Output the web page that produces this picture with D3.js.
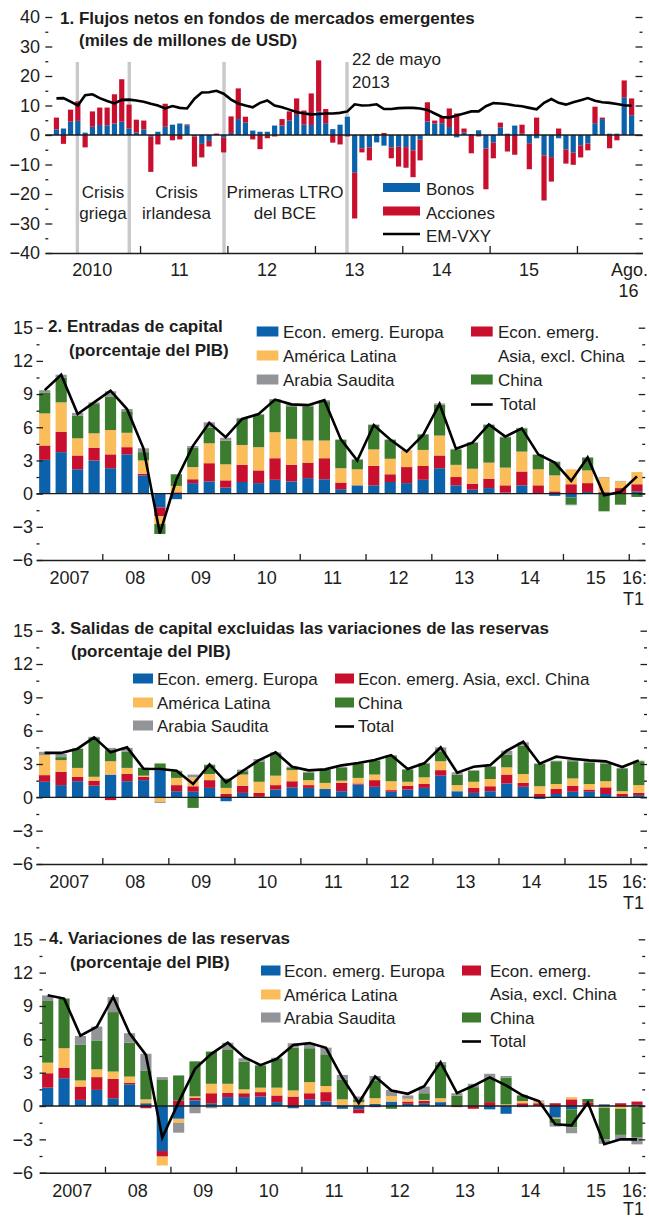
<!DOCTYPE html>
<html>
<head>
<meta charset="utf-8">
<script src="https://cdn.jsdelivr.net/npm/d3@7"></script>
<style>
  body { margin: 0; background: #fff; }
  svg text { font-family: "Liberation Sans", Arial, sans-serif; fill: #1d1d1b; }
</style>
</head>
<body>
<svg id="chart" width="649" height="1220"></svg>
<script>
// ---------- panel 1: monthly fund flows (Jan 2010 - Aug 2016) ----------
const fundMonths = d3.timeMonth.range(new Date(2010, 0, 1), new Date(2016, 8, 1));
const bonds = [
  1.9, 2.2, 4.5, 4.8, 0.8, 2.8, 3.4, 3.3, 3.9, 4.5, 2.2, 0.8,
  1.9, -0.5, 1.1, 2.8, 3.5, 3.9, 3.3, -0.5, -3.0, -2.0, 0, -0.9,
  0.7, 5.4, 4.2, 1.5, 1.1, 1.1, 3.2, 3.2, 4.9, 6.8, 3.5, 3.4,
  7.9, 4.0, 2.0, 3.5, 6.2, -12.8, -4.5, -4.2, -2.5, -3.6, -4.2, -4.0,
  -4.1, -5.2, -1.6, 4.6, 3.9, 4.0, 2.7, -0.8, 0.8, 0.3, 1.6, -4.6,
  -2.6, 2.6, 0.45, 3.2, 0.45, -2.8, -1.1, -6.9, -7.5, -1.1, -4.9, -6.0,
  -3.5, -2.9, 4.0, 5.4, 0.45, 0.45, 12.8, 6.7
];
const equities = [
  4.0, -3.0, 4.1, 6.6, -4.2, 5.2, 5.9, 6.0, 9.9, 14.4, 8.1, 4.4,
  3.0, -12.0, -3.2, 7.8, -1.8, -1.5, 0.3, -10.2, -4.6, -1.9, 0.5, -5.0,
  5.6, 10.4, 2.0, -1.5, -4.8, -1.1, -0.5, 2.2, 3.1, 5.6, 4.8, 10.7,
  17.4, 4.8, -2.6, -3.2, -0.5, -15.5, -1.4, -4.4, 0.35, 0.7, -3.7, -6.7,
  -7.0, -9.1, -7.0, 6.5, 1.0, 2.2, 6.3, 7.3, 1.4, -6.2, -0.5, -13.8,
  -5.3, 1.6, -5.6, -6.7, 3.05, -8.8, 5.9, -15.3, -8.3, 2.2, -4.8, -4.1,
  -4.1, -2.3, 5.6, 0.5, -4.5, -1.8, 5.7, 5.7
];
const emvxy = [
  12.4, 12.5, 11.3, 10.0, 13.5, 13.8, 12.5, 11.5, 10.7, 11.9, 12.0, 11.7,
  11.3, 10.6, 10.0, 9.0, 9.8, 9.2, 9.0, 12.3, 14.4, 14.5, 15.0, 14.0,
  12.0, 10.7, 10.0, 9.4, 10.9, 11.7, 10.0, 9.4, 8.6, 7.8, 7.3, 7.0,
  7.1, 7.3, 7.3, 7.5, 8.0, 10.4, 10.0, 10.1, 10.4, 8.8, 8.8, 9.1,
  9.2, 9.2, 9.0, 8.5, 7.3, 6.1, 5.9, 6.6, 7.3, 8.0, 8.0, 9.75,
  10.8, 10.7, 10.4, 10.0, 9.75, 9.2, 8.7, 10.9, 12.2, 10.9, 10.3, 11.1,
  11.8, 12.5, 11.6, 11.1, 10.9, 10.5, 10.1, 9.9
];
const eventDates = [new Date(2010, 3, 14), new Date(2010, 10, 17), new Date(2011, 11, 18), new Date(2013, 4, 15)];
const eventLabels = [["Crisis", "griega"], ["Crisis", "irlandesa"], ["Primeras LTRO", "del BCE"]];
const flowYearLabels = ["2010", "11", "12", "13", "14", "15"];

// ---------- panels 2-4: quarterly, 2007:T1 - 2016:T1 ----------
const quarters = d3.range(2007, 2017).flatMap(y => [1, 2, 3, 4].map(q => `${y}T${q}`)).slice(0, 37);
const yearLabels = ["2007", "08", "09", "10", "11", "12", "13", "14", "15"];
const seriesKeys = ["europa", "asia", "latam", "china", "arabia"];

// 2. Entradas de capital
const inEuropa = [3.05, 3.75, 2.2, 3.0, 2.3, 3.55, 1.65, -1.25, -0.5, 0.95, 1.1, 0.55, 1.05, 0.95, 1.25, 1.1, 1.4, 1.3, 0.4, 0.75, 0.75, 1.05, 0.95, 1.25, 2.3, 0.75, 0.35, 0.5, 0.1, 0.75, 0, -0.2, -0.35, 0.15, 0.1, 0.05, 0.2];
const inAsia   = [1.3, 1.85, 1.25, 1.15, 1.25, 0.65, 0.15, -0.8, 0.12, 0.35, 1.65, 0.65, 1.55, 1.15, 1.95, 1.5, 1.4, 1.9, 0.6, 0, 1.75, 0.7, 1.45, 1.25, 1.15, 0.75, 0.55, 0.85, 0.65, 1.25, 0.75, 0.2, 0.85, 0.8, 0.05, 0.45, 0.65];
const inLatam  = [2.9, 2.65, 1.55, 1.3, 2.2, 1.3, 1.2, -0.7, 0.58, 1.1, 1.8, 1.45, 1.8, 2.1, 2.35, 2.35, 2.0, 1.6, 1.3, 1.45, 1.5, 1.4, 1.45, 1.45, 1.8, 1.1, 1.35, 1.45, 1.6, 1.8, 1.45, 1.45, 1.35, 1.15, 1.3, 0.6, 1.1];
const inChina  = [1.9, 2.25, 2.05, 2.65, 3.0, 1.95, 0.75, -0.9, 1.05, 1.75, 1.4, 2.15, 2.35, 2.95, 2.9, 2.95, 3.1, 3.55, 2.55, 0.87, 2.2, 1.7, 0, 1.4, 2.8, 1.4, 2.35, 3.4, 2.75, 2.05, 1.3, 1.2, -0.65, 1.15, -1.6, -1.0, -0.3];
const inArabia = [0.2, 0.25, 0.25, 0.15, 0.5, 0.2, 0.35, 0, 0, 0.15, 0.5, 0.25, 0.1, 0.05, 0.1, 0.2, 0.1, 0.1, 0.05, 0.05, 0.05, 0.05, 0.05, 0.05, 0.1, 0.05, 0.05, 0.05, 0.05, 0.1, 0.05, 0.05, -0.05, 0.05, 0.05, 0.05, 0];
const inTotal  = [9.36, 10.74, 7.2, 8.25, 9.3, 7.65, 4.1, -3.6, 1.25, 4.3, 6.4, 5.1, 6.75, 7.2, 8.5, 8.07, 8.0, 8.45, 4.9, 3.0, 6.2, 4.9, 3.8, 5.3, 8.1, 4.05, 4.6, 6.25, 5.15, 5.9, 3.55, 2.8, 1.15, 3.27, -0.15, 0.15, 1.56];

// 3. Salidas de capital excluidas las variaciones de las reservas
const outEuropa = [1.4, 1.1, 1.45, 1.05, 2.05, 1.45, 1.55, 2.45, 0.55, 0.5, 0.85, -0.35, 0.4, 0.05, 0.7, 0.9, 0.85, 0.75, 0.55, 1.15, 0.95, 0.5, 0.7, 0.85, 1.95, 0.55, 0.4, 0.55, 1.25, 0.95, -0.15, 0.3, 0.5, 0.5, 0.3, 0.1, 0.2];
const outAsia   = [0.6, 1.2, 0.4, 0.45, -0.25, 0.65, 0.3, 0, 0.55, 0.5, 0.7, 0.3, 0.65, 0.35, 0.4, 0.55, 0.25, 0, 0.75, 0.1, 0.6, 0.15, 0.35, 0.35, 0.5, 0, 0.45, 0.45, 0.8, 0.35, 0.3, 0.45, 0.55, 0.2, 0.6, 0.2, 0.2];
const outLatam  = [1.8, 1.05, 0.8, 0.35, 1.2, 0.55, 0.1, -0.4, 0.65, 0.8, 0.55, 0.55, 1.0, 1.0, 0.85, 1.0, 0.45, 0.55, 0.2, 0.5, 0.5, 0.8, 0.35, 0.6, 0.8, 0.55, 0.55, 0.65, 0.65, 0.8, 0.7, 0.45, 0.65, 0.5, 0.55, 0.25, 0.7];
const outChina  = [0, 0.27, 1.7, 3.55, 1.0, 1.45, 0.7, 0.6, 0.6, -0.95, 0.8, 0.8, 0.3, 1.8, 2.0, 0.2, 0.65, 1.2, 1.2, 1.3, 1.25, 2.3, 1.1, 1.25, 0.9, 0.95, 1.0, 1.1, 1.15, 2.55, 2.0, 2.05, 1.55, 1.95, 1.6, 2.0, 2.15];
const outArabia = [0.3, 0.3, 0.05, 0.05, 0.2, 0.35, 0.02, -0.1, 0.05, 0.25, 0.05, 0.05, 0.15, 0.25, 0.1, 0.12, 0.1, 0.05, 0.05, 0.05, 0.05, 0.05, 0.05, 0.05, 0.35, 0.2, 0.05, 0.05, 0.35, 0.3, 0.05, 0.05, 0.15, 0.1, 0.1, 0.1, 0.05];
const outTotal  = [4.0, 4.0, 4.38, 5.4, 4.05, 4.5, 2.58, 2.55, 2.4, 1.2, 2.97, 1.35, 2.37, 3.36, 4.05, 2.76, 2.43, 2.52, 2.88, 3.09, 3.36, 3.8, 2.55, 3.06, 4.5, 2.22, 2.76, 2.9, 4.2, 5.0, 3.03, 3.66, 3.48, 3.33, 3.24, 2.73, 3.33];

// 4. Variaciones de las reservas
const resEuropa = [1.65, 2.5, 0.55, 1.45, 0.7, 1.95, 0.25, -4.05, -1.15, 0.5, 0.25, 0.8, 0.8, 0.85, 0.35, -0.2, 0.6, 0.4, -0.25, -0.3, 0.2, 0.4, 0.2, 0.25, 0.35, 0, 0, -0.3, -0.7, -0.1, 0, -1.05, -0.3, 0, 0.15, 0, 0.1];
const resAsia   = [1.3, 0.95, 1.2, 1.15, 1.75, 0.15, -0.2, -0.5, 0.5, 0.25, 0.9, 0.4, 0.35, 0.4, 0.6, 0.85, 0.55, 0.85, 0, -0.35, -0.1, 0, 0.2, 0.2, 0, -0.1, -0.25, 0.35, 0, 0.25, 0.25, 0.25, 0.6, 0.33, 0, 0.25, 0.3];
const resLatam  = [0.95, 1.75, 0.55, 0.7, 0.65, 0.55, 0.35, -0.8, -0.35, 0.12, 0.85, 0.8, 0.35, 0.4, 0.7, 0.55, 1.0, 0.55, 0.6, 0.35, 0.5, 0.5, 0.25, 0.1, 0.35, 0, 0, 0, 0.15, 0.2, 0.15, -0.1, 0.2, 0, -0.15, -0.25, -0.1];
const resChina  = [5.55, 4.45, 3.2, 2.6, 5.35, 3.05, 2.6, 2.4, 2.25, 3.15, 2.9, 3.1, 2.5, 2.0, 2.6, 3.85, 3.05, 2.85, 1.75, 0.25, 1.55, -0.25, 0, 0.6, 3.05, 0.95, 1.7, 2.15, 2.4, 0.5, 0, -0.4, -1.6, 0.3, -2.85, -2.35, -2.75];
const resArabia = [0.5, 0.05, 0.8, 1.25, 1.35, 0.85, 1.5, 0.2, -0.9, -0.65, -0.2, 0.6, 0.3, 0.05, 0.1, 0.4, 0.4, 0.6, 0.45, 0.25, 0.45, 0.55, 0.3, 0.6, 0.2, 0.2, 0.3, 0.4, 0.15, 0.05, 0.1, -0.3, -0.55, 0, -0.4, -0.45, -0.6];
const resTotal  = [9.97, 9.67, 6.33, 7.13, 9.82, 6.54, 4.6, -2.84, 0.35, 3.34, 4.69, 5.7, 4.4, 3.68, 4.25, 5.5, 5.66, 5.24, 2.54, 0.27, 2.66, 1.4, 1.1, 1.79, 3.94, 1.16, 1.82, 2.57, 1.86, 0.96, 0.45, -1.65, -1.74, 0.3, -3.43, -3.0, -3.0];

const C = {
  blue: "#0b62ab", red: "#c8102e", yellow: "#fbbd59", grey: "#929497",
  green: "#3b7c2f", ink: "#1d1d1b", band: "#c9c9cb"
};
const stackColors = [C.blue, C.red, C.yellow, C.green, C.grey];
const svg = d3.select("#chart");

function addText(g, x, y, str, opts = {}) {
  return g.append("text")
    .attr("x", x).attr("y", y)
    .attr("text-anchor", opts.anchor || "start")
    .style("font-size", (opts.size || 17) + "px")
    .style("font-weight", opts.bold ? "bold" : "normal")
    .text(str);
}

function styleAxis(sel) {
  sel.select(".domain").remove();
  sel.selectAll("line").attr("stroke", C.ink).attr("stroke-width", 1.3);
  sel.selectAll("text").style("font-size", "18px").attr("fill", C.ink)
    .style("font-family", "'Liberation Sans', Arial, sans-serif");
}

// y ticks: labels on the left, short marks inside both edges
function drawYAxis(g, y, x0, x1, labelRight, majors, minors, majorLen) {
  g.append("g").attr("transform", `translate(${labelRight},0)`)
    .call(d3.axisLeft(y).tickValues(majors).tickSize(0).tickPadding(0))
    .call(styleAxis);
  g.append("g").attr("transform", `translate(${x0},0)`)
    .call(d3.axisRight(y).tickValues(majors).tickSize(majorLen).tickFormat(""))
    .call(styleAxis);
  g.append("g").attr("transform", `translate(${x0},0)`)
    .call(d3.axisRight(y).tickValues(minors).tickSize(3).tickFormat(""))
    .call(styleAxis);
  g.append("g").attr("transform", `translate(${x1},0)`)
    .call(d3.axisLeft(y).tickValues(majors).tickSize(majorLen).tickFormat(""))
    .call(styleAxis);
  g.append("g").attr("transform", `translate(${x1},0)`)
    .call(d3.axisLeft(y).tickValues(minors).tickSize(3).tickFormat(""))
    .call(styleAxis);
}

// ================= PANEL 1 =================
(function () {
  const g = svg.append("g");
  const x0 = 45.3, x1 = 642.5, yBase = 253;
  const x = d3.scaleTime().domain([new Date(2009, 11, 1), new Date(2016, 9, 1)]).range([x0, x1]);
  const y = d3.scaleLinear().domain([-40, 40]).range([yBase, 17]);
  const mid = m => (x(m) + x(d3.timeMonth.offset(m, 1))) / 2;

  // event bands
  g.selectAll("rect.band").data(eventDates).join("rect")
    .attr("class", "band")
    .attr("x", d => x(d) - 1.7).attr("width", 3.4)
    .attr("y", 62).attr("height", yBase - 62)
    .attr("fill", C.band);

  const rows = fundMonths.map((m, i) => ({ month: m, bonds: bonds[i], equities: equities[i] }));
  const stacked = d3.stack().keys(["bonds", "equities"]).offset(d3.stackOffsetDiverging)(rows);
  g.selectAll("g.series").data(stacked).join("g")
    .attr("fill", (d, i) => i ? C.red : C.blue)
    .selectAll("rect").data(d => d).join("rect")
    .attr("x", d => mid(d.data.month) - 2.6).attr("width", 5.2)
    .attr("y", d => y(Math.max(d[0], d[1])))
    .attr("height", d => Math.abs(y(d[0]) - y(d[1])));

  g.append("line").attr("x1", x0).attr("x2", x1).attr("y1", y(0)).attr("y2", y(0))
    .attr("stroke", C.ink).attr("stroke-width", 1.5);

  const line = d3.line().x((d, i) => mid(fundMonths[i])).y(d => y(d));
  g.append("path").datum(emvxy).attr("d", line)
    .attr("fill", "none").attr("stroke", "#000").attr("stroke-width", 2.6);

  drawYAxis(g, y, x0, x1, 40, d3.range(-40, 41, 10), d3.range(-35, 40, 10), 7);

  // x axis
  const years = d3.range(2011, 2017).map(yr => new Date(yr, 0, 1));
  g.append("g").attr("transform", `translate(0,${yBase})`)
    .call(d3.axisTop(x).tickValues(years).tickSize(7).tickSizeOuter(0).tickFormat(""))
    .call(s => s.select(".domain").attr("stroke", C.ink).attr("stroke-width", 1.5))
    .call(s => s.selectAll("line").attr("stroke", C.ink).attr("stroke-width", 1.3));
  flowYearLabels.forEach((lab, i) => addText(g, x(new Date(2010 + i, 5, 15)), 276, lab, { anchor: "middle", size: 18 }));
  addText(g, mid(fundMonths[79]) - 2, 276, "Ago.", { anchor: "middle", size: 18 });
  addText(g, mid(fundMonths[79]) - 3, 297, "16", { anchor: "middle", size: 18 });

  // annotations
  const labX = [103, 176.5, 285];
  eventLabels.forEach((lines, i) => {
    addText(g, labX[i], 198, lines[0], { anchor: "middle" });
    addText(g, labX[i], 218.5, lines[1], { anchor: "middle" });
  });
  addText(g, 352, 65, "22 de mayo");
  addText(g, 352, 88, "2013");

  // titles
  addText(g, 60, 24, "1. Flujos netos en fondos de mercados emergentes", { bold: true });
  addText(g, 79, 45.5, "(miles de millones de USD)", { bold: true });

  // legend
  g.append("rect").attr("x", 383).attr("y", 183).attr("width", 37).attr("height", 9).attr("fill", C.blue);
  addText(g, 426, 195, "Bonos");
  g.append("rect").attr("x", 383).attr("y", 206.5).attr("width", 37).attr("height", 9).attr("fill", C.red);
  addText(g, 426, 218.5, "Acciones");
  g.append("line").attr("x1", 383).attr("x2", 420).attr("y1", 234).attr("y2", 234)
    .attr("stroke", "#000").attr("stroke-width", 2.6);
  addText(g, 426, 241.5, "EM-VXY");
})();

// ================= PANELS 2-4 =================
function quarterPanel(cfg) {
  const g = svg.append("g");
  const { x0, x1, yTop, yBot } = cfg;
  const x = d3.scaleBand().domain(quarters).range([x0, x1]).paddingInner(0.32).paddingOuter(0.16);
  const half = x.step() * 0.16;
  const y = d3.scaleLinear().domain([-6, 15]).range([yBot, yTop]);

  const rows = quarters.map((q, i) => {
    const r = { q };
    seriesKeys.forEach((k, j) => { r[k] = cfg.series[j][i]; });
    return r;
  });
  const stacked = d3.stack().keys(seriesKeys).offset(d3.stackOffsetDiverging)(rows);
  g.selectAll("g.series").data(stacked).join("g")
    .attr("fill", (d, i) => stackColors[i])
    .selectAll("rect").data(d => d).join("rect")
    .attr("x", d => x(d.data.q)).attr("width", x.bandwidth())
    .attr("y", d => y(Math.max(d[0], d[1])))
    .attr("height", d => Math.abs(y(d[0]) - y(d[1])));

  g.append("line").attr("x1", x0).attr("x2", x1).attr("y1", y(0)).attr("y2", y(0))
    .attr("stroke", C.ink).attr("stroke-width", 1.4);

  const line = d3.line().x((d, i) => x(quarters[i]) + x.bandwidth() / 2).y(d => y(d));
  g.append("path").datum(cfg.total).attr("d", line)
    .attr("fill", "none").attr("stroke", "#000").attr("stroke-width", 2.6);

  drawYAxis(g, y, x0, x1, 33, d3.range(-6, 16, 3), d3.range(-4.5, 15, 3), 6.5);

  // x axis with year boundaries
  const bounds = d3.range(2008, 2017).map(yr => x(`${yr}T1`) - half);
  const xb = d3.scaleLinear().domain([x0, x1]).range([x0, x1]);
  g.append("g").attr("transform", `translate(0,${yBot})`)
    .call(d3.axisTop(xb).tickValues(bounds).tickSize(6).tickSizeOuter(0).tickFormat(""))
    .call(s => s.select(".domain").attr("stroke", C.ink).attr("stroke-width", 1.5))
    .call(s => s.selectAll("line").attr("stroke", C.ink).attr("stroke-width", 1.3));
  yearLabels.forEach((lab, i) => {
    addText(g, x(`${2007 + i}T3`) - half, yBot + 24, lab, { anchor: "middle", size: 18 });
  });
  addText(g, 647, yBot + 24, "16:", { anchor: "end", size: 18 });
  addText(g, 644, Math.min(yBot + 45, 1215), "T1", { anchor: "end", size: 18 });

  // titles
  addText(g, cfg.title[0][0], cfg.title[0][1], cfg.title[0][2], { bold: true });
  addText(g, cfg.title[1][0], cfg.title[1][1], cfg.title[1][2], { bold: true });

  // legend
  cfg.legend.forEach(it => {
    if (it.color) {
      g.append("rect").attr("x", it.sx).attr("y", it.y - 11.5).attr("width", it.sw).attr("height", 10)
        .attr("fill", it.color);
    } else if (it.line) {
      g.append("line").attr("x1", it.sx).attr("x2", it.sx + it.sw).attr("y1", it.y - 5.5).attr("y2", it.y - 5.5)
        .attr("stroke", "#000").attr("stroke-width", 2.6);
    }
    addText(g, it.tx, it.y, it.text);
  });
}

quarterPanel({
  x0: 36.5, x1: 645.2, yTop: 327.7, yBot: 560,
  series: [inEuropa, inAsia, inLatam, inChina, inArabia], total: inTotal,
  title: [[48, 331.5, "2. Entradas de capital"], [69, 356, "(porcentaje del PIB)"]],
  legend: [
    { sx: 256.7, sw: 21.7, tx: 283, y: 338, color: C.blue, text: "Econ. emerg. Europa" },
    { sx: 256.7, sw: 21.7, tx: 283, y: 362, color: C.yellow, text: "América Latina" },
    { sx: 256.7, sw: 21.7, tx: 283, y: 386, color: C.grey, text: "Arabia Saudita" },
    { sx: 471, sw: 21.7, tx: 498, y: 338, color: C.red, text: "Econ. emerg." },
    { tx: 498, y: 362, text: "Asia, excl. China" },
    { sx: 471, sw: 21.7, tx: 498, y: 386, color: C.green, text: "China" },
    { sx: 471, sw: 21.7, tx: 500, y: 410, line: true, text: "Total" }
  ]
});

quarterPanel({
  x0: 36.3, x1: 647, yTop: 630.7, yBot: 864,
  series: [outEuropa, outAsia, outLatam, outChina, outArabia], total: outTotal,
  title: [[51, 634, "3. Salidas de capital excluidas las variaciones de las reservas"], [71, 657, "(porcentaje del PIB)"]],
  legend: [
    { sx: 133, sw: 20, tx: 157, y: 685, color: C.blue, text: "Econ. emerg. Europa" },
    { sx: 133, sw: 20, tx: 157, y: 709, color: C.yellow, text: "América Latina" },
    { sx: 133, sw: 20, tx: 157, y: 732, color: C.grey, text: "Arabia Saudita" },
    { sx: 335, sw: 19, tx: 358, y: 685, color: C.red, text: "Econ. emerg. Asia, excl. China" },
    { sx: 335, sw: 19, tx: 358, y: 709, color: C.green, text: "China" },
    { sx: 335, sw: 19, tx: 358, y: 732, line: true, text: "Total" }
  ]
});

quarterPanel({
  x0: 39.5, x1: 645.2, yTop: 939.3, yBot: 1172.7,
  series: [resEuropa, resAsia, resLatam, resChina, resArabia], total: resTotal,
  title: [[49, 944, "4. Variaciones de las reservas"], [70, 968, "(porcentaje del PIB)"]],
  legend: [
    { sx: 261, sw: 19.5, tx: 284, y: 977, color: C.blue, text: "Econ. emerg. Europa" },
    { sx: 261, sw: 19.5, tx: 284, y: 1001, color: C.yellow, text: "América Latina" },
    { sx: 261, sw: 19.5, tx: 284, y: 1024, color: C.grey, text: "Arabia Saudita" },
    { sx: 462, sw: 19, tx: 490, y: 977, color: C.red, text: "Econ. emerg." },
    { tx: 490, y: 1000, text: "Asia, excl. China" },
    { sx: 462, sw: 19, tx: 490, y: 1024, color: C.green, text: "China" },
    { sx: 462, sw: 19, tx: 490, y: 1047, line: true, text: "Total" }
  ]
});
</script>
</body>
</html>
